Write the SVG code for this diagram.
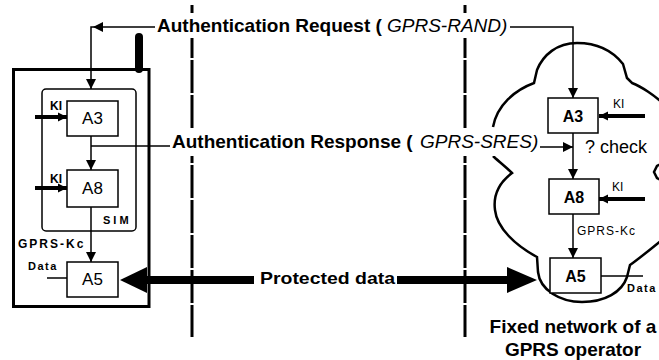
<svg xmlns="http://www.w3.org/2000/svg" width="659" height="360" viewBox="0 0 659 360">
<style>
text{font-family:"Liberation Sans",Arial,sans-serif;fill:#000}
.box{fill:#fff;stroke:#000;stroke-width:1.5}
.ln{fill:none;stroke:#000;stroke-width:1.5}
.tk{fill:none;stroke:#000;stroke-width:4}
.dash{fill:none;stroke:#000;stroke-width:3;stroke-dasharray:33 2;stroke-dashoffset:15}
.lbl{font-size:19px;font-weight:bold}
.it{font-style:italic;font-weight:normal}
.bl{font-size:17px;text-anchor:middle}
.br{font-size:16px;font-weight:bold;text-anchor:middle}
.sm{font-size:12px;font-weight:bold}
</style>
<defs>
<marker id="ah" viewBox="0 0 10 10" refX="10" refY="5" markerWidth="10" markerHeight="10" markerUnits="userSpaceOnUse" orient="auto"><path d="M0,0 L10,5 L0,10 z"/></marker>
<marker id="ahk" viewBox="0 0 10 10" refX="10" refY="5" markerWidth="9" markerHeight="10" markerUnits="userSpaceOnUse" orient="auto"><path d="M0,0 L10,5 L0,10 z"/></marker>
</defs>

<g id="boundaries">
<line class="dash" x1="192" y1="5" x2="192" y2="337"/>
<line class="dash" x1="465" y1="5" x2="465" y2="337"/>
</g>

<g id="network">
<path d="M493,156 C497,160 505,166 512,173 C500,182 493,195 495,210 C497,228 515,245 537,257 L538,272 C540,290 560,302 582,302 C605,302 622,292 627,277 L630,265 C640,258 652,248 668,235 L668,184 L657,178 L654,172 L657,166 L668,160 L668,108 C655,95 640,86 632,83 L627,78 L623,64 C612,50 597,43 577,43 C557,43 543,55 537,70 L534,83 C515,90 497,105 493,127" fill="none" stroke="#000" stroke-width="2.5"/>
<text x="573" y="333" class="lbl" text-anchor="middle">Fixed network of a</text>
<text x="573" y="356" class="lbl" text-anchor="middle">GPRS operator</text>
</g>

<g id="phone">
<rect x="135" y="33" width="8" height="40" rx="4" fill="#000"/>
<rect x="13.5" y="69.5" width="135.5" height="237" fill="none" stroke="#000" stroke-width="3"/>
</g>

<g id="sim">
<rect x="42" y="89" width="94" height="142" rx="4" fill="none" stroke="#000" stroke-width="1.5"/>
<text x="103" y="224" font-size="11" font-weight="bold" letter-spacing="3">SIM</text>
</g>

<g id="connectors">
<rect x="153" y="13" width="357" height="25" fill="#fff"/>
<rect x="169" y="129" width="370" height="27" fill="#fff"/>
<polyline class="ln" points="155,27 91,27 91,89" marker-end="url(#ah)"/>
<polygon points="93,27 103,22 103,32"/>
<polyline class="ln" points="510,27 573,27 573,98" marker-end="url(#ah)"/>
<line class="ln" x1="91" y1="146" x2="170" y2="146"/>
<line class="ln" x1="540" y1="147" x2="573" y2="147" marker-end="url(#ah)"/>
<line class="ln" x1="91" y1="136" x2="91" y2="170" marker-end="url(#ah)"/>
<line class="ln" x1="91" y1="207" x2="91" y2="262" marker-end="url(#ah)"/>
<line class="ln" x1="573" y1="133" x2="573" y2="179" marker-end="url(#ah)"/>
<line class="ln" x1="573" y1="214" x2="573" y2="258" marker-end="url(#ah)"/>
<line class="tk" x1="35" y1="117" x2="67" y2="117" marker-end="url(#ahk)"/>
<line class="tk" x1="35" y1="188" x2="67" y2="188" marker-end="url(#ahk)"/>
<line class="tk" x1="645" y1="116" x2="599" y2="116" marker-end="url(#ahk)"/>
<line class="tk" x1="645" y1="199" x2="599" y2="199" marker-end="url(#ahk)"/>
<line class="ln" x1="47" y1="278" x2="68" y2="278"/>
<line class="ln" x1="601" y1="276" x2="643" y2="276"/>
<line x1="146" y1="280" x2="254" y2="280" stroke="#000" stroke-width="8"/>
<line x1="397" y1="280" x2="508" y2="280" stroke="#000" stroke-width="8"/>
<polygon points="120,280 147,267 147,293"/>
<polygon points="537,280 507,267 507,293"/>
<text x="157" y="32" class="lbl">Authentication Request (<tspan x="387" class="it">GPRS-RAND</tspan><tspan class="it" font-style="normal">)</tspan></text>
<text x="172" y="148" class="lbl">Authentication Response (<tspan x="420" class="it">GPRS-SRES</tspan><tspan class="it" font-style="normal">)</tspan></text>
<text x="260" y="284" font-size="17" font-weight="bold" textLength="135" lengthAdjust="spacingAndGlyphs">Protected data</text>
<text x="50" y="110" class="sm">KI</text>
<text x="50" y="183" class="sm">KI</text>
<text x="18" y="248" class="sm" letter-spacing="2">GPRS-Kc</text>
<text x="28" y="270" font-size="11" font-weight="bold" letter-spacing="1.5">Data</text>
<text x="613" y="108" font-size="12">KI</text>
<text x="612" y="191" font-size="12">KI</text>
<text x="577" y="235" font-size="12" letter-spacing="1">GPRS-Kc</text>
<text x="585" y="153" font-size="18">? check</text>
<text x="627" y="292" font-size="11" font-weight="bold" letter-spacing="1.5">Data</text>
</g>

<g id="ms-a3"><rect class="box" x="67" y="101" width="51" height="35"/><text class="bl" x="92.5" y="124">A3</text></g>
<g id="ms-a8"><rect class="box" x="67" y="170" width="51" height="37"/><text class="bl" x="92.5" y="194">A8</text></g>
<g id="ms-a5"><rect class="box" x="67" y="262" width="51" height="35"/><text class="bl" x="92.5" y="285">A5</text></g>
<g id="net-a3"><rect class="box" x="548" y="98" width="50" height="35"/><text class="br" x="573" y="122">A3</text></g>
<g id="net-a8"><rect class="box" x="549" y="179" width="50" height="35"/><text class="br" x="574" y="203">A8</text></g>
<g id="net-a5"><rect class="box" x="550" y="258" width="51" height="35"/><text class="br" x="575.5" y="282">A5</text></g>
</svg>
